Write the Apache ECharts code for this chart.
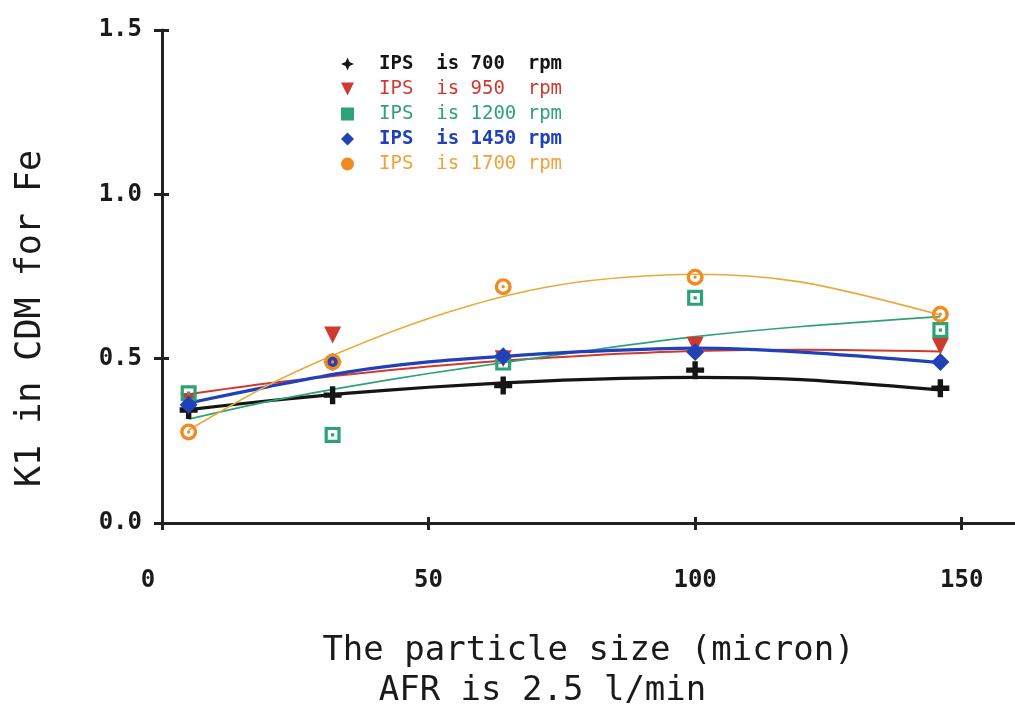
<!DOCTYPE html>
<html>
<head>
<meta charset="utf-8">
<script src="https://cdn.jsdelivr.net/npm/echarts@6/dist/echarts.min.js"></script>
<style>
html,body{margin:0;padding:0;background:#ffffff;}
#chart{width:1015px;height:716px;}
</style>
</head>
<body>
<div id="chart"></div>
<script>
// ---- data ----
const particleSize = [5, 32, 64, 100, 146];
const k700  = [0.344, 0.389, 0.418, 0.465, 0.410];
const k950  = [0.370, 0.572, 0.500, 0.541, 0.538];
const k1200 = [0.395, 0.268, 0.488, 0.685, 0.587];
const k1450 = [0.360, 0.490, 0.507, 0.520, 0.490];
const k1700 = [0.277, 0.490, 0.719, 0.748, 0.635];

// fitted curves
const fitX    = [5, 20, 35, 50, 65, 80, 100, 120, 146];
const fit700  = [0.345, 0.372, 0.395, 0.413, 0.427, 0.437, 0.443, 0.436, 0.405];
const fit950  = [0.392, 0.425, 0.452, 0.476, 0.495, 0.510, 0.523, 0.527, 0.522];
const fit1200 = [0.316, 0.370, 0.415, 0.455, 0.490, 0.525, 0.567, 0.598, 0.628];
const fit1450 = [0.365, 0.415, 0.460, 0.490, 0.508, 0.522, 0.532, 0.520, 0.488];
const fit1700 = [0.283, 0.420, 0.530, 0.622, 0.693, 0.737, 0.757, 0.733, 0.633];

const seriesNames = ['IPS  is 700  rpm', 'IPS  is 950  rpm', 'IPS  is 1200 rpm', 'IPS  is 1450 rpm', 'IPS  is 1700 rpm'];
const xTicks = [0, 50, 100, 150];

const MONO = '"DejaVu Sans Mono", "Liberation Mono", monospace';
const colBlack = '#151515', colRed = '#cf3a30', colGreen = '#2ea277', colBlue = '#2141b8', colOrange = '#f08a22', colOrangeLine = '#e9aa3c';

const plusPath = 'path://M3.5,0 L6.5,0 L6.5,3.5 L10,3.5 L10,6.5 L6.5,6.5 L6.5,10 L3.5,10 L3.5,6.5 L0,6.5 L0,3.5 L3.5,3.5 Z';
const triDown = 'path://M0,0 L10,0 L5,9 Z';
const sqRing = 'path://M0,0 L10,0 L10,10 L0,10 Z M2,2 L2,8 L8,8 L8,2 Z M4,4 L6,4 L6,6 L4,6 Z';
const cirRing = 'path://M5,0 A5,5 0 1,1 5,10 A5,5 0 1,1 5,0 Z M5,2 A3,3 0 1,0 5,8 A3,3 0 1,0 5,2 Z M5,4 A1,1 0 1,1 5,6 A1,1 0 1,1 5,4 Z';
const diamond = 'path://M5,0 L10,5 L5,10 L0,5 Z';

function pts(ys, xs) { return xs.map((x, i) => [x, ys[i]]); }

const markerSets = [
  {name: seriesNames[0], data: k700,  color: colBlack,  symbol: plusPath, size: 18},
  {name: seriesNames[1], data: k950,  color: colRed,    symbol: triDown,  size: 17},
  {name: seriesNames[2], data: k1200, color: colGreen,  symbol: sqRing,   size: 16},
  {name: seriesNames[3], data: k1450, color: colBlue,   symbol: diamond,  size: 18},
  {name: seriesNames[4], data: k1700, color: colOrange, symbol: cirRing,  size: 17}
];
const fitSets = [
  {data: fit700,  color: colBlack,      width: 3.2},
  {data: fit950,  color: colRed,        width: 2},
  {data: fit1200, color: colGreen,      width: 1.6},
  {data: fit1450, color: colBlue,       width: 3.2},
  {data: fit1700, color: colOrangeLine, width: 1.6}
];

const series = [];
fitSets.forEach((f, i) => {
  series.push({
    name: 'fit' + i, type: 'line', data: pts(f.data, fitX), smooth: 0.3,
    showSymbol: false, symbol: 'none', silent: true,
    lineStyle: {color: f.color, width: f.width}, z: 2
  });
});
markerSets.forEach(m => {
  series.push({
    name: m.name, type: 'scatter', data: pts(m.data, particleSize),
    symbol: m.symbol, symbolSize: m.size,
    itemStyle: {color: m.color, opacity: 1}, z: 3
  });
});

const legendIcons = [
  'path://M5,0 L6.5,3.5 L10,5 L6.5,6.5 L5,10 L3.5,6.5 L0,5 L3.5,3.5 Z',
  'path://M0,0 L10,0 L5,10 Z',
  'path://M0,0 L10,0 L10,10 L0,10 Z',
  'path://M5,0 L10,5 L5,10 L0,5 Z',
  'circle'
];
const legendText = [colBlack, colRed, colGreen, colBlue, '#f0a23a'];
const legendWeight = ['bold', 'normal', 'normal', 'bold', 'normal'];

const option = {
  backgroundColor: '#ffffff',
  animation: false,
  grid: {left: 162, right: 0, top: 30, bottom: 193, containLabel: false},
  legend: {
    orient: 'vertical', left: 336, top: 49,
    itemWidth: 13, itemHeight: 13, itemGap: 5,
    selectedMode: false,
    data: seriesNames.map((n, i) => ({
      name: n, icon: legendIcons[i],
      itemStyle: {color: markerSets[i].color},
      textStyle: {color: legendText[i], fontWeight: legendWeight[i]}
    })),
    textStyle: {fontFamily: MONO, fontSize: 19, lineHeight: 20, padding: [0, 0, 0, 20]}
  },
  xAxis: [{
    type: 'value', min: 0, max: 160, position: 'bottom',
    name: '{a|The particle size (micron)}\n{b|AFR is 2.5 l/min}',
    nameLocation: 'middle', nameGap: 108,
    nameTextStyle: {
      fontFamily: MONO, fontSize: 34, color: '#1a1a1a', lineHeight: 40,
      rich: {
        a: {fontFamily: MONO, fontSize: 34, color: '#1a1a1a', lineHeight: 40, padding: [0, 0, 0, 0]},
        b: {fontFamily: MONO, fontSize: 34, color: '#1a1a1a', lineHeight: 40, padding: [0, 92, 0, 0]}
      }
    },
    splitLine: {show: false},
    axisLine: {show: true, onZero: false, lineStyle: {color: '#222', width: 3}},
    axisTick: {show: true, inside: false, length: 7, customValues: xTicks, lineStyle: {color: '#222', width: 3}},
    axisLabel: {
      customValues: xTicks, margin: 46, fontFamily: MONO, fontSize: 24, fontWeight: 'bold', color: '#1a1a1a',
      formatter: v => (v === 0 ? '{z|0}' : String(v)),
      rich: {z: {fontFamily: MONO, fontSize: 24, fontWeight: 'bold', color: '#1a1a1a', padding: [0, 28, 0, 0]}}
    }
  }, {
    type: 'value', min: 0, max: 160, position: 'bottom',
    splitLine: {show: false},
    axisLine: {show: false},
    axisTick: {show: true, inside: true, length: 6, customValues: xTicks, lineStyle: {color: '#222', width: 3}},
    axisLabel: {show: false}
  }],
  yAxis: [{
    type: 'value', min: 0, max: 1.5, interval: 0.5, position: 'left',
    name: 'K1 in CDM for Fe', nameLocation: 'middle', nameGap: 114, nameRotate: 90,
    nameTextStyle: {fontFamily: MONO, fontSize: 35, color: '#1a1a1a', padding: [0, 84, 0, 0]},
    splitLine: {show: false},
    axisLine: {show: true, onZero: false, lineStyle: {color: '#222', width: 3}},
    axisTick: {show: true, inside: false, length: 8, lineStyle: {color: '#222', width: 3}},
    axisLabel: {margin: 20, fontFamily: MONO, fontSize: 24, fontWeight: 'bold', color: '#1a1a1a',
      formatter: v => v.toFixed(1)}
  }, {
    type: 'value', min: 0, max: 1.5, interval: 0.5, position: 'left',
    splitLine: {show: false},
    axisLine: {show: false},
    axisTick: {show: true, inside: true, length: 7, lineStyle: {color: '#222', width: 3}},
    axisLabel: {show: false}
  }],
  series: series
};

const chart = echarts.init(document.getElementById('chart'), null, {renderer: 'canvas'});
chart.setOption(option);
</script>
</body>
</html>
